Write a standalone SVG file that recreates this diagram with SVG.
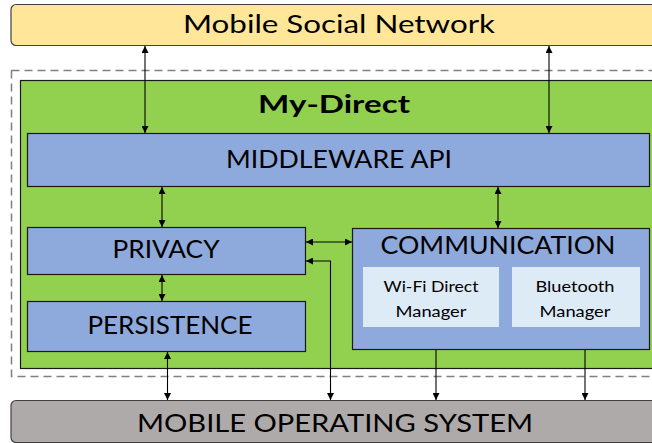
<svg xmlns="http://www.w3.org/2000/svg" width="652" height="443" viewBox="0 0 652 443">
  <defs>
    <marker id="head" viewBox="0 0 10 10" refX="10" refY="5" markerWidth="7" markerHeight="7" orient="auto-start-reverse" markerUnits="userSpaceOnUse">
      <path d="M0,0 L10,5 L0,10 z" fill="#000"/>
    </marker>
    <style>
      text { font-family: Lato, "Open Sans", "Liberation Sans", sans-serif; fill: #000; text-anchor: middle; }
      .big { font-size: 25.5px; }
      .small { font-size: 16px; }
      .title { font-size: 25px; font-weight: bold; }
      .blue { fill: #8EA9DB; stroke: #1a1a1a; stroke-width: 1.2; }
      .light { fill: #DDEBF7; }
      .conn { stroke: #000; stroke-width: 1.1; fill: none; }
    </style>
  </defs>

  <!-- outer layers -->
  <g id="social-network">
    <rect x="11" y="4.5" width="660" height="41" rx="5" fill="#FFE699" stroke="#404040" stroke-width="1.2"/>
    <text class="big" x="339" y="33" textLength="312" lengthAdjust="spacingAndGlyphs">Mobile Social Network</text>
  </g>

  <g id="boundary">
    <rect x="11.5" y="70.5" width="660" height="306" fill="none" stroke="#808080" stroke-width="1.5" stroke-dasharray="8,5"/>
  </g>

  <g id="my-direct">
    <rect x="20.5" y="80.5" width="660" height="288" fill="#92D050" stroke="#1a1a1a" stroke-width="1.2"/>
    <text class="title" x="334" y="113" textLength="152" lengthAdjust="spacingAndGlyphs">My-Direct</text>
  </g>

  <g id="middleware-api">
    <rect class="blue" x="27.5" y="133.5" width="622" height="53"/>
    <text class="big" x="339" y="168" textLength="226" lengthAdjust="spacingAndGlyphs">MIDDLEWARE API</text>
  </g>

  <g id="privacy">
    <rect class="blue" x="27.5" y="227.5" width="278" height="47"/>
    <text class="big" x="166" y="258" textLength="107" lengthAdjust="spacingAndGlyphs">PRIVACY</text>
  </g>

  <g id="persistence">
    <rect class="blue" x="27.5" y="301.5" width="278" height="50"/>
    <text class="big" x="170" y="334" textLength="165" lengthAdjust="spacingAndGlyphs">PERSISTENCE</text>
  </g>

  <g id="communication">
    <rect class="blue" x="352.5" y="228.5" width="297" height="121"/>
    <text class="big" x="498" y="254" textLength="235" lengthAdjust="spacingAndGlyphs">COMMUNICATION</text>
  </g>

  <g id="wifi-direct-manager">
    <rect class="light" x="363" y="267" width="136" height="60"/>
    <text class="small" x="431" y="292" textLength="95" lengthAdjust="spacingAndGlyphs">Wi-Fi Direct</text>
    <text class="small" x="431" y="317" textLength="71" lengthAdjust="spacingAndGlyphs">Manager</text>
  </g>

  <g id="bluetooth-manager">
    <rect class="light" x="512" y="267" width="128" height="60"/>
    <text class="small" x="575" y="292" textLength="79" lengthAdjust="spacingAndGlyphs">Bluetooth</text>
    <text class="small" x="575" y="317" textLength="71" lengthAdjust="spacingAndGlyphs">Manager</text>
  </g>

  <g id="operating-system">
    <rect x="11" y="400.5" width="660" height="42" rx="5" fill="#AEAAAA" stroke="#404040" stroke-width="1.2"/>
    <text class="big" x="335" y="432" textLength="396" lengthAdjust="spacingAndGlyphs">MOBILE OPERATING SYSTEM</text>
  </g>

  <!-- connectors -->
  <g id="connectors">
    <line class="conn" x1="145" y1="46" x2="145" y2="133" marker-start="url(#head)" marker-end="url(#head)"/>
    <line class="conn" x1="549" y1="46" x2="549" y2="133" marker-start="url(#head)" marker-end="url(#head)"/>
    <line class="conn" x1="162" y1="187" x2="162" y2="227" marker-start="url(#head)" marker-end="url(#head)"/>
    <line class="conn" x1="498" y1="187" x2="498" y2="228" marker-start="url(#head)" marker-end="url(#head)"/>
    <line class="conn" x1="162" y1="275" x2="162" y2="301" marker-start="url(#head)" marker-end="url(#head)"/>
    <line class="conn" x1="306" y1="242" x2="352" y2="242" marker-start="url(#head)" marker-end="url(#head)"/>
    <polyline class="conn" points="306,261 330.5,261 330.5,400" marker-start="url(#head)" marker-end="url(#head)"/>
    <line class="conn" x1="167.5" y1="352" x2="167.5" y2="400" marker-start="url(#head)" marker-end="url(#head)"/>
    <line class="conn" x1="436" y1="350" x2="436" y2="400" marker-end="url(#head)"/>
    <line class="conn" x1="585" y1="350" x2="585" y2="400" marker-end="url(#head)"/>
  </g>
</svg>
